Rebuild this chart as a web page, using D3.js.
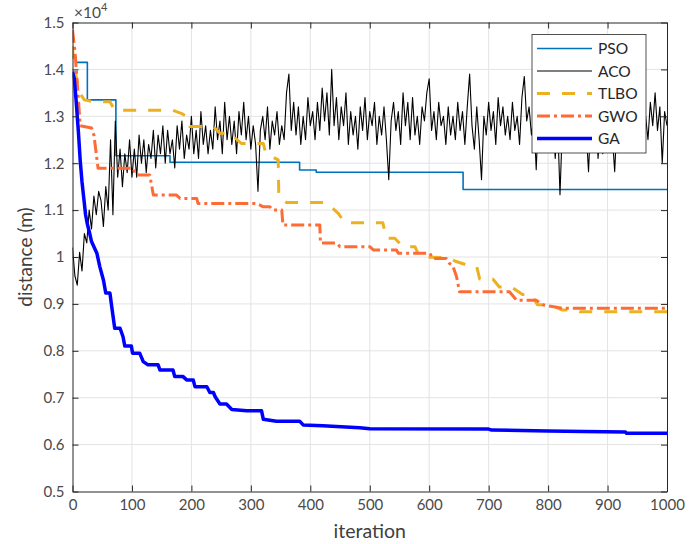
<!DOCTYPE html>
<html>
<head>
<meta charset="utf-8">
<script src="https://cdn.jsdelivr.net/npm/d3@7"></script>
<style>
  body { margin: 0; background: #fff; }
  svg { font-family: Lato, "Open Sans", sans-serif; }
</style>
</head>
<body>
<svg width="694" height="544"></svg>
<script>
// x ticks / y ticks
const xTicks = [0, 100, 200, 300, 400, 500, 600, 700, 800, 900, 1000];
const yTicks = [5000, 6000, 7000, 8000, 9000, 10000, 11000, 12000, 13000, 14000, 15000];
const yTickLabels = ['0.5', '0.6', '0.7', '0.8', '0.9', '1', '1.1', '1.2', '1.3', '1.4', '1.5'];

const seriesNames = ['PSO', 'ACO', 'TLBO', 'GWO', 'GA'];

// [iteration, distance]
const psoPoints = [[0, 14270], [6, 14150], [25, 13350], [73, 12160], [164, 12020], [382, 11855],
  [410, 11806], [657, 11440], [1000, 11440]];

const acoIter = d3.range(0, 1001, 4);
const acoDist = [
  10200, 9600, 9400, 10100, 9700, 10500, 10300, 11000, 10600, 11300, 10900, 11400, 11200, 10650, 11500, 11000,
  12500, 10900, 12900, 11700, 12300, 11500, 12200, 11800, 12500, 11700,
  12300, 11700, 12600, 12000, 12500, 11800, 12400, 12100, 12700, 11900, 12600, 12200, 12800, 12000, 12700, 12200,
  12500, 11900, 12800, 12300, 12900, 12100, 12600, 12300, 13000, 12200, 12700, 12100, 13100, 12400, 12800, 12200,
  12700, 12300, 13200, 12500, 12900, 12200, 13300, 12500, 13000, 12400, 12900, 12200, 13100, 12600, 13300, 12500,
  13000, 12300, 12800, 12400, 11400, 12700, 13000, 12500, 13200, 12300, 12900, 12600, 13100, 12400, 12800, 12500,
  13500, 13900, 12700, 13300, 12600, 13200, 12400, 13000, 12500, 13400, 12800, 13100, 12500, 13300, 12700, 13600,
  12900, 13500, 12600, 14000, 12800, 13400, 12500, 13200, 12800, 13500, 12400, 13100, 12600, 13000, 12300, 13200,
  12700, 13400, 12500, 13100, 12800, 13300, 12400, 13000, 12600, 13200, 12500, 11650, 12900, 13300, 12700, 13100,
  12400, 13500, 12800, 13300, 12500, 13400, 12600, 13000, 12400, 13200, 12900, 13500, 13800, 12700, 13100, 12500,
  13300, 12800, 13000, 12400, 13200, 12600, 13000, 12500, 13300, 12700, 13100, 12400, 13200, 13900, 12800, 12300,
  13200, 12500, 11650, 13000, 12600, 13300, 12700, 13100, 12400, 13400, 12800, 13200, 12600, 13000, 12500, 13300,
  12700, 13000, 12400, 13400, 13850, 12900, 13200, 12600,
  13000, 11860, 13100, 12700, 13300, 12800, 13200, 12600, 13000, 12100, 12900, 11330, 12800, 13200, 12600, 13100,
  12700, 13300, 12800, 13000, 12500, 13200, 12700, 11820, 13000, 12600, 13300, 12100, 12800, 12200, 13100, 12700,
  13300, 12600, 11820, 12900, 13200, 12600, 13100, 12500, 13000, 12700, 13300, 12600, 13100, 12500, 13200, 13000,
  12500, 13300, 12800, 13500, 12700, 13200, 12000, 13100, 12800
];

const tlboPoints = [[0, 14500], [2, 14050], [6, 13850], [12, 13500], [20, 13350], [35, 13310], [63, 13310],
  [71, 13130], [169, 13130], [185, 13050], [192, 12990], [197, 12780], [237, 12780], [248, 12640], [265, 12640],
  [284, 12420], [321, 12420], [325, 12210], [346, 12070], [347, 11290], [360, 11160], [427, 11160], [447, 10930],
  [458, 10730], [522, 10730], [528, 10400], [542, 10400], [556, 10220], [576, 10220], [584, 10000], [629, 9990],
  [643, 9915], [663, 9830], [680, 9790], [685, 9530], [707, 9530], [718, 9360], [738, 9360], [757, 9200],
  [772, 9200], [782, 8980], [803, 8980], [824, 8870], [839, 8870], [853, 8834], [1000, 8834]];

const gwoPoints = [[0, 14840], [4, 14410], [10, 13350], [13, 12800], [32, 12750], [36, 12600], [40, 12200],
  [43, 11890], [102, 11890], [105, 11780], [111, 11750], [130, 11750], [136, 11320], [175, 11320], [181, 11250],
  [209, 11250], [211, 11140], [310, 11140], [321, 11070], [332, 11070], [337, 11000], [352, 11000], [354, 10680],
  [416, 10680], [417, 10300], [444, 10300], [450, 10220], [500, 10220], [506, 10150], [545, 10150], [548, 10080],
  [601, 10080], [606, 9970], [629, 9970], [634, 9866], [640, 9800], [646, 9580], [651, 9260], [735, 9260],
  [747, 9080], [780, 9080], [791, 8980], [825, 8906], [1000, 8906]];

const gaPoints = [[0, 13950], [3, 13800], [6, 13350], [10, 12650], [13, 12050], [16, 11600], [19, 11250],
  [22, 10900], [25, 10700], [29, 10500], [32, 10330], [41, 10080], [46, 9790], [52, 9510], [56, 9230], [63, 9230],
  [66, 8940], [71, 8480], [80, 8480], [85, 8300], [88, 8100], [99, 8100], [101, 7950], [113, 7950], [119, 7770],
  [127, 7700], [144, 7700], [147, 7590], [169, 7590], [172, 7450], [186, 7450], [192, 7380], [203, 7380],
  [206, 7235], [226, 7235], [231, 7110], [237, 7110], [240, 7020], [248, 6866], [259, 6866], [268, 6750],
  [293, 6720], [318, 6720], [321, 6540], [343, 6500], [382, 6500], [388, 6420], [421, 6400], [483, 6360],
  [500, 6340], [700, 6330], [705, 6310], [800, 6290], [860, 6280], [930, 6270], [932, 6240], [1000, 6240]];

const svg = d3.select('svg');
const margin = {top: 22.5, right: 27, bottom: 52.5, left: 72.5};
const width = +svg.attr('width') - margin.left - margin.right;
const height = +svg.attr('height') - margin.top - margin.bottom;
const g = svg.append('g').attr('transform', `translate(${margin.left}, ${margin.top})`);

const x = d3.scaleLinear().domain([0, 1000]).range([0, width]);
const y = d3.scaleLinear().domain([5000, 15000]).range([height, 0]);

// grid
g.append('g').selectAll('line').data(xTicks.slice(1, -1)).enter().append('line')
  .attr('x1', d => x(d)).attr('x2', d => x(d)).attr('y1', 0).attr('y2', height)
  .attr('stroke', '#e3e3e3');
g.append('g').selectAll('line').data(yTicks.slice(1, -1)).enter().append('line')
  .attr('x1', 0).attr('x2', width).attr('y1', d => y(d)).attr('y2', d => y(d))
  .attr('stroke', '#e3e3e3');

const clip = svg.append('clipPath').attr('id', 'plotclip');
clip.append('rect').attr('x', 0).attr('y', 0).attr('width', width).attr('height', height);

const line = d3.line().x(d => x(d[0])).y(d => y(d[1]));
const stepLine = d3.line().x(d => x(d[0])).y(d => y(d[1])).curve(d3.curveStepAfter);
const plot = g.append('g').attr('clip-path', 'url(#plotclip)');

const styles = {
  PSO: {color: '#0072BD', w: 1.6, dash: null},
  ACO: {color: '#000000', w: 1.1, dash: null},
  TLBO: {color: '#EDB120', w: 3, dash: '13,12'},
  GWO: {color: '#FF6B35', w: 3, dash: '13,4,3,4'},
  GA: {color: '#0000FF', w: 3.5, dash: null}
};

const acoPoints = acoIter.map((it, i) => [it, acoDist[i]]);
const allSeries = {PSO: psoPoints, ACO: acoPoints, TLBO: tlboPoints, GWO: gwoPoints, GA: gaPoints};

seriesNames.forEach(name => {
  const s = styles[name];
  plot.append('path')
    .datum(allSeries[name])
    .attr('fill', 'none')
    .attr('stroke', s.color)
    .attr('stroke-width', s.w)
    .attr('stroke-linejoin', 'round')
    .attr('stroke-dasharray', s.dash)
    .attr('d', name === 'PSO' ? stepLine : line);
});

// axes (MATLAB box, inward ticks)
const axisColor = '#262626';
const axBottom = g.append('g').attr('transform', `translate(0, ${height})`)
  .call(d3.axisBottom(x).tickValues(xTicks).tickSizeInner(-6).tickSizeOuter(0).tickPadding(8)
    .tickFormat(d3.format('d')));
const axTop = g.append('g')
  .call(d3.axisTop(x).tickValues(xTicks).tickSizeInner(-6).tickSizeOuter(0).tickFormat(''));
const axLeft = g.append('g')
  .call(d3.axisLeft(y).tickValues(yTicks).tickSizeInner(-6).tickSizeOuter(0).tickPadding(8)
    .tickFormat((d, i) => yTickLabels[i]));
const axRight = g.append('g').attr('transform', `translate(${width}, 0)`)
  .call(d3.axisRight(y).tickValues(yTicks).tickSizeInner(-6).tickSizeOuter(0).tickFormat(''));

[axBottom, axTop, axLeft, axRight].forEach(a => {
  a.select('.domain').attr('stroke', axisColor);
  a.selectAll('.tick line').attr('stroke', axisColor);
  a.selectAll('.tick text').attr('fill', '#4a4a4a').style('font-size', '15px')
    .style('font-family', 'Lato, "Open Sans", sans-serif');
});

// exponent label
const expo = svg.append('text').attr('x', 74).attr('y', 18)
  .attr('fill', '#4a4a4a').style('font-size', '15.5px');
expo.append('tspan').text('×10');
expo.append('tspan').attr('dy', -7).style('font-size', '11px').text('4');

// axis titles
svg.append('text')
  .attr('transform', `translate(32, ${margin.top + height / 2}) rotate(-90)`)
  .attr('text-anchor', 'middle')
  .attr('fill', '#404040')
  .style('font-size', '19px')
  .text('distance (m)');

svg.append('text')
  .attr('x', margin.left + width / 2).attr('y', 538)
  .attr('text-anchor', 'middle')
  .attr('fill', '#404040')
  .style('font-size', '19.5px')
  .text('iteration');

// legend
const leg = svg.append('g').attr('transform', 'translate(532, 34.5)');
leg.append('rect').attr('width', 114).attr('height', 118.5)
  .attr('fill', '#fff').attr('stroke', axisColor).attr('stroke-width', 0.8);
seriesNames.forEach((name, i) => {
  const s = styles[name];
  const ry = 14 + i * 22.5;
  leg.append('line').attr('x1', 5).attr('x2', 60).attr('y1', ry).attr('y2', ry)
    .attr('stroke', s.color).attr('stroke-width', s.w).attr('stroke-dasharray', s.dash);
  leg.append('text').attr('x', 66).attr('y', ry).attr('dy', '0.36em')
    .attr('fill', '#262626').style('font-size', '15.5px').text(name);
});
</script>
</body>
</html>
